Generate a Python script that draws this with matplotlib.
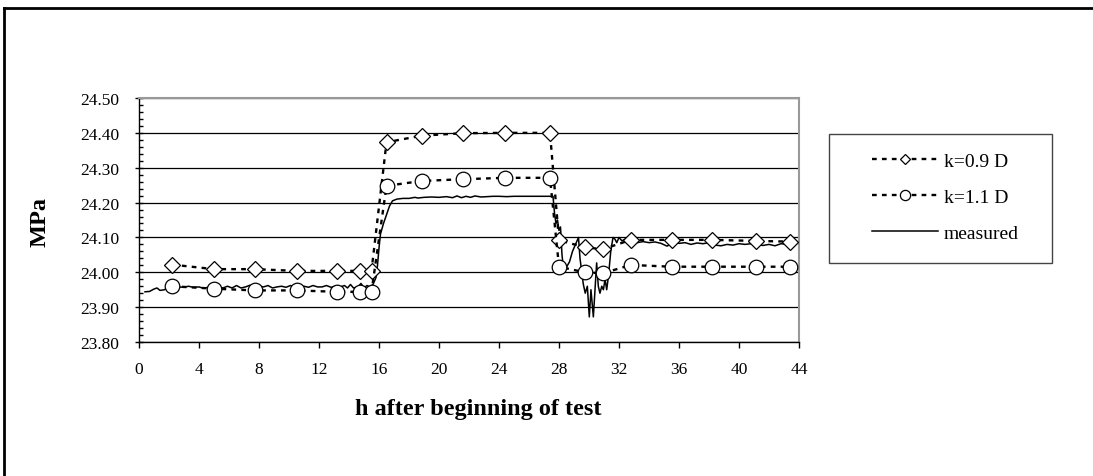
import matplotlib.pyplot as plt
from matplotlib.lines import Line2D
from matplotlib.patches import Rectangle
from matplotlib.ticker import MultipleLocator, FormatStrFormatter

plt.rcParams["font.family"] = ["Liberation Serif", "DejaVu Serif"]

# model k=0.9 D (diamonds)
h_09 = [2.2, 5.0, 7.7, 10.5, 13.2, 14.7, 15.5, 16.5, 18.85, 21.6, 24.4, 27.4,
        28.0, 29.7, 30.9, 32.8, 35.5, 38.2, 41.1, 43.4]
v_09 = [24.022, 24.009, 24.009, 24.004, 24.004, 24.004, 24.004, 24.373, 24.392, 24.399, 24.400, 24.400,
        24.092, 24.072, 24.066, 24.093, 24.093, 24.093, 24.090, 24.088]

# model k=1.1 D (circles)
h_11 = [2.2, 5.0, 7.7, 10.5, 13.2, 14.7, 15.5, 16.5, 18.85, 21.6, 24.4, 27.4,
        28.0, 29.7, 30.9, 32.8, 35.5, 38.2, 41.1, 43.4]
v_11 = [23.960, 23.953, 23.948, 23.948, 23.944, 23.944, 23.944, 24.248, 24.262, 24.267, 24.271, 24.271,
        24.016, 24.000, 23.997, 24.021, 24.016, 24.016, 24.016, 24.016]

# measured
h_meas = [0.4, 0.7, 1.0, 1.2, 1.4, 1.7, 2.0, 2.3, 2.6, 3.0, 3.3, 3.6, 4.0, 4.3, 4.6, 5.0,
          5.3, 5.6, 5.9, 6.2, 6.5, 6.8, 7.1, 7.4, 7.7, 8.0, 8.3, 8.6, 8.9, 9.2, 9.5, 9.8,
          10.1, 10.4, 10.7, 11.0, 11.3, 11.6, 11.9, 12.2, 12.5, 12.8, 13.1, 13.4, 13.7, 13.9,
          14.1, 14.3, 14.6, 14.8, 15.0, 15.2, 15.4, 15.6, 15.8, 15.9, 16.0, 16.1, 16.3, 16.5,
          16.7, 16.9, 17.2, 17.6, 18.0, 18.4, 18.6, 19.0, 19.5, 20.0, 20.5, 20.9, 21.2, 21.5,
          21.8, 22.1, 22.4, 22.8, 23.2, 23.6, 24.0, 24.5, 25.0, 25.5, 26.0, 26.5, 27.0, 27.6,
          27.7, 27.8, 27.9, 28.0, 28.1, 28.2, 28.3, 28.5, 28.7, 28.9, 29.1, 29.3, 29.4, 29.62,
          29.75, 29.89, 30.02, 30.13, 30.29, 30.51, 30.62, 30.73, 30.85, 30.96, 31.07, 31.18,
          31.3, 31.45, 31.6, 31.73, 31.85, 32.0, 32.2, 32.4, 32.6, 32.8, 33.2, 33.6, 34.0,
          34.4, 34.8, 35.2, 35.4, 35.6, 36.0, 36.4, 36.8, 37.2, 37.6, 38.0, 38.4, 38.8, 39.2,
          39.6, 40.0, 40.4, 40.8, 41.2, 41.6, 42.0, 42.4, 42.8, 43.2, 43.6]
v_meas = [23.944, 23.945, 23.952, 23.955, 23.948, 23.950, 23.958, 23.962, 23.958, 23.957,
          23.960, 23.957, 23.958, 23.954, 23.957, 23.955, 23.958, 23.955, 23.960, 23.955,
          23.962, 23.955, 23.958, 23.963, 23.955, 23.960, 23.958, 23.962, 23.955, 23.958,
          23.960, 23.957, 23.962, 23.958, 23.955, 23.960, 23.957, 23.962, 23.958, 23.958,
          23.962, 23.957, 23.960, 23.958, 23.962, 23.955, 23.965, 23.955, 23.958, 23.968,
          23.955, 23.962, 23.958, 23.965, 23.985, 24.020, 24.070, 24.110, 24.140, 24.165,
          24.190, 24.205, 24.210, 24.212, 24.212, 24.215, 24.213, 24.215, 24.216, 24.215,
          24.217, 24.214, 24.219, 24.214, 24.218, 24.215, 24.219, 24.216, 24.217, 24.218,
          24.218, 24.217, 24.218, 24.218, 24.218, 24.218, 24.218, 24.218,
          24.170, 24.140, 24.150, 24.120, 24.130, 24.050, 24.010, 24.015, 24.030, 24.060,
          24.080, 24.100, 24.040, 23.966, 23.940, 23.960, 23.872, 23.950, 23.872, 24.027,
          23.960, 23.940, 23.960, 23.950, 23.980, 23.950, 23.990, 24.060, 24.100, 24.095,
          24.085, 24.100, 24.090, 24.095, 24.085, 24.090, 24.085, 24.088, 24.085, 24.087,
          24.083, 24.075, 24.080, 24.088, 24.083, 24.085, 24.080, 24.084, 24.082, 24.085,
          24.078, 24.076, 24.080, 24.078, 24.082, 24.080, 24.082, 24.079, 24.077, 24.080,
          24.076, 24.082, 24.080, 24.079]

fig = plt.figure(figsize=(10.93, 4.77), dpi=100)
ax = fig.add_axes([139 / 1093, 1 - 343 / 477, 660 / 1093, 244 / 477])

dots = (0, (2, 2.2))
l1, = ax.plot(h_09, v_09, color="black", lw=1.7, linestyle=dots, marker="D", ms=8,
              mfc="white", mec="black", mew=0.9, label="k=0.9 D", zorder=3)
l2, = ax.plot(h_11, v_11, color="black", lw=1.7, linestyle=dots, marker="o", ms=10.5,
              mfc="white", mec="black", mew=0.9, label="k=1.1 D", zorder=3)
l3, = ax.plot(h_meas, v_meas, color="black", lw=1.1, label="measured", zorder=2)

ax.set_xlim(0, 44)
ax.set_ylim(23.80, 24.50)
ax.xaxis.set_major_locator(MultipleLocator(4))
ax.yaxis.set_major_locator(MultipleLocator(0.1))
ax.yaxis.set_minor_locator(MultipleLocator(0.02))
ax.yaxis.set_major_formatter(FormatStrFormatter("%.2f"))
ax.grid(axis="y", which="major", color="black", lw=0.9)
ax.tick_params(axis="y", which="major", direction="inout", length=6, width=1, pad=11, labelsize=12.5)
ax.tick_params(axis="y", which="minor", direction="in", length=3, width=1)
ax.tick_params(axis="x", direction="out", length=4, width=1, pad=10, labelsize=12.5)
for s in ("top", "right"):
    ax.spines[s].set_color("#999999")
    ax.spines[s].set_linewidth(1.5)
for s in ("left", "bottom"):
    ax.spines[s].set_color("black")
    ax.spines[s].set_linewidth(1.0)

fig.text(478 / 1093, 1 - 410 / 477, "h after beginning of test", fontsize=17.5,
         fontweight="bold", ha="center", va="center")
fig.text(40 / 1093, 1 - 222 / 477, "MPa", fontsize=17.5, fontweight="bold",
         rotation=90, ha="center", va="center")

# legend frame and entries
fig.patches.append(Rectangle((829 / 1093, 1 - 264 / 477), 223 / 1093, 129 / 477,
                             transform=fig.transFigure, fill=False, edgecolor="#444444", lw=1.0))
fig.legend(handles=[l1, l2, l3], loc="center left", bbox_to_anchor=(872 / 1093, 1 - 198 / 477),
           frameon=False, fontsize=14, handlelength=3.4, handletextpad=0.3,
           labelspacing=0.95, numpoints=1, markerscale=0.7, borderpad=0, borderaxespad=0)

# outer border (top and left)
fig.add_artist(Line2D([4 / 1093, 1.0], [1 - 9 / 477, 1 - 9 / 477], transform=fig.transFigure,
                      color="black", lw=2))
fig.add_artist(Line2D([4 / 1093, 4 / 1093], [0.0, 1 - 9 / 477], transform=fig.transFigure,
                      color="black", lw=2))

fig.savefig("out.png", dpi=100)
